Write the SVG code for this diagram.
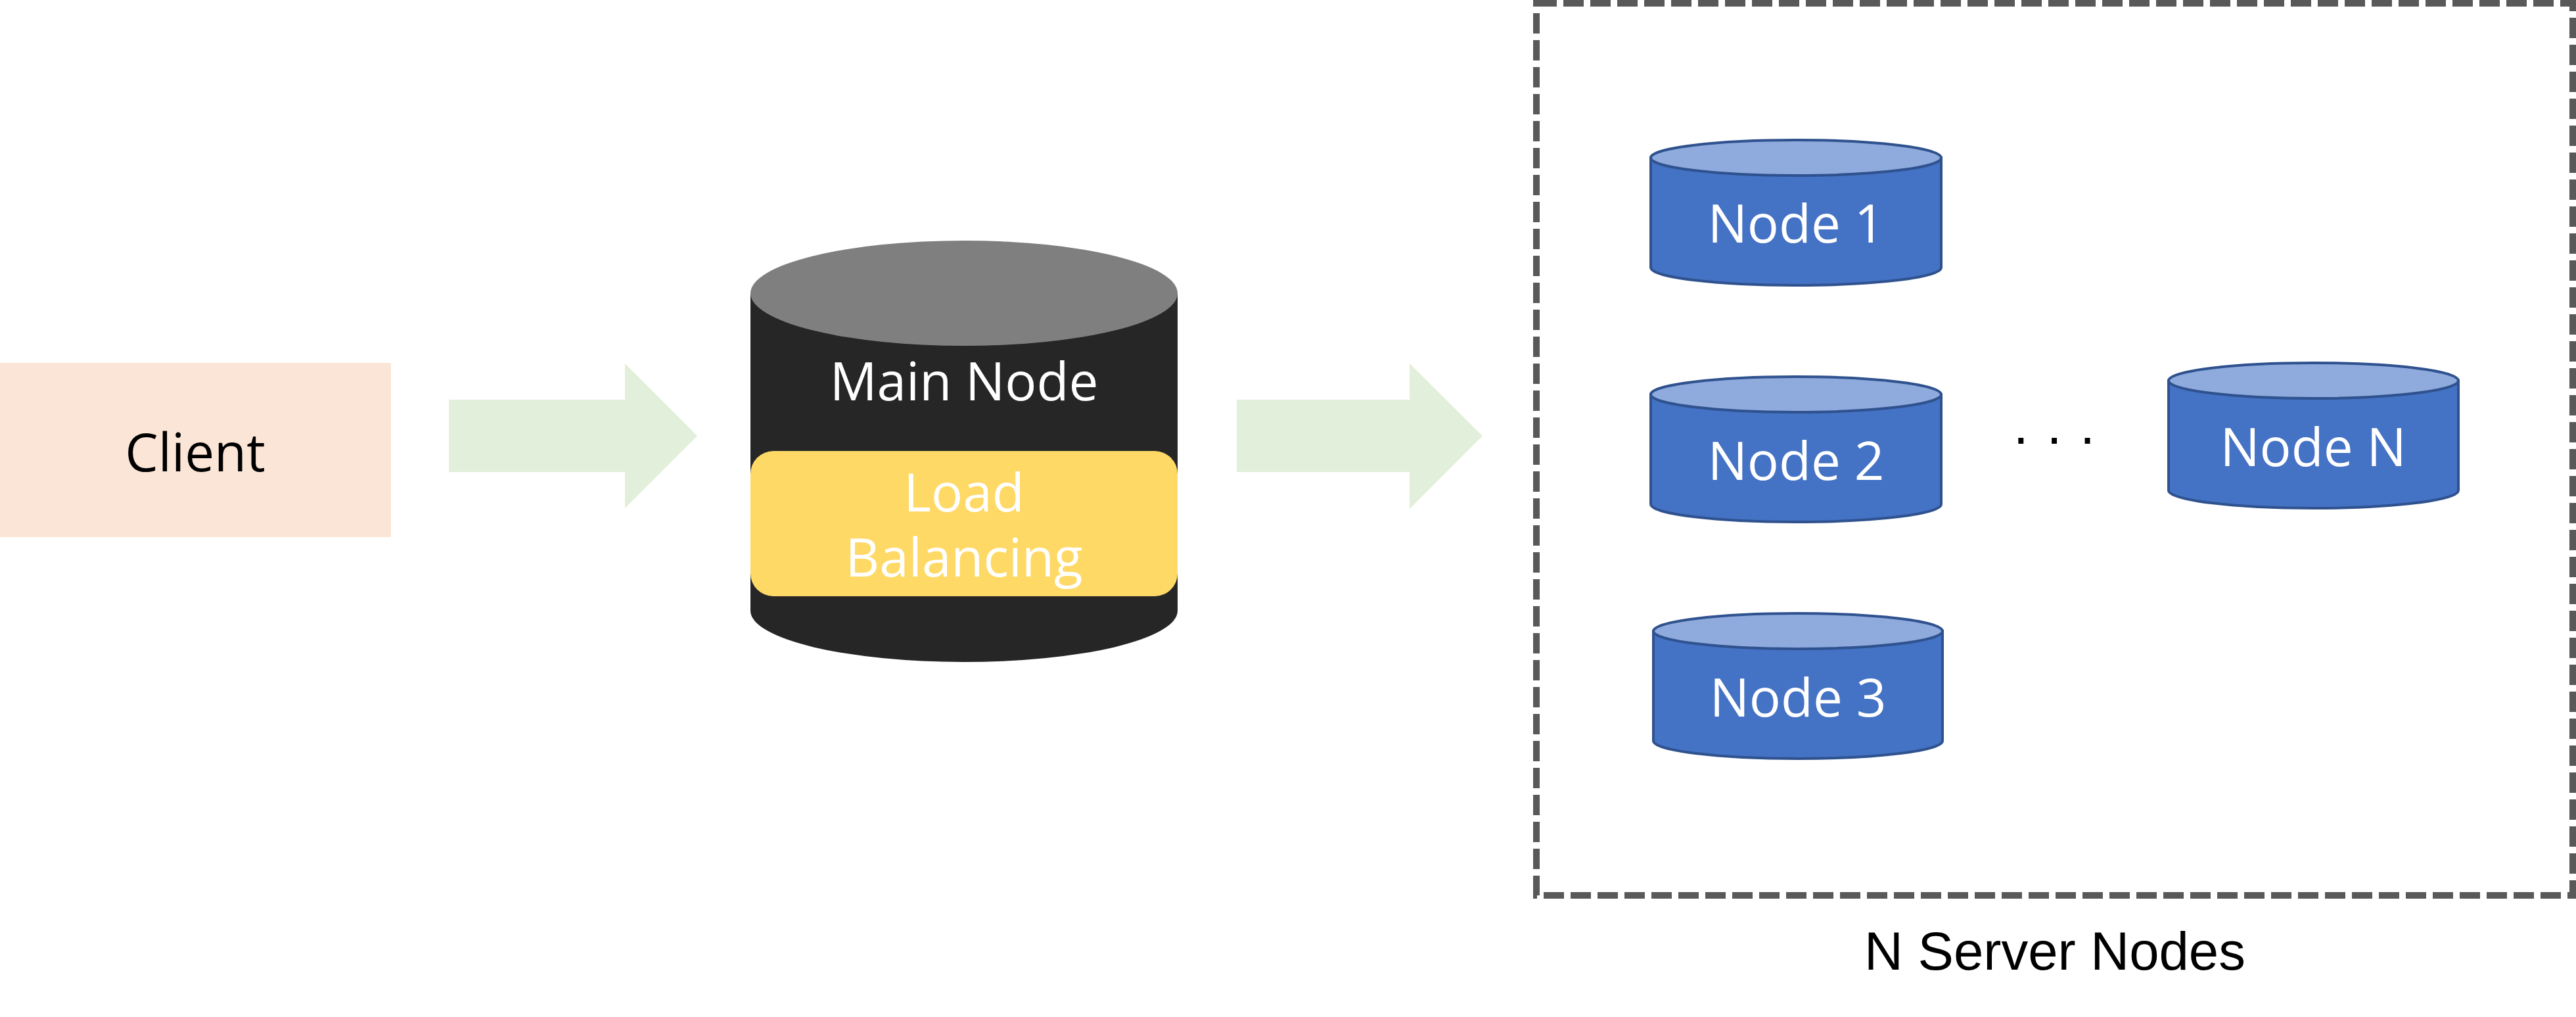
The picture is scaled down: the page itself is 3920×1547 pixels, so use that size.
<svg xmlns="http://www.w3.org/2000/svg" width="3920" height="1547" viewBox="0 0 3920 1547">
<style>
.seg{font-family:"Open Sans","Noto Sans","DejaVu Sans",sans-serif;font-size:80px;text-anchor:middle}
.w{fill:#ffffff}
.k{fill:#000000}
.arial{font-family:"Liberation Sans",Arial,sans-serif;text-anchor:middle}
.body{fill:#4472c4;stroke:#2f528f;stroke-width:4}
.top{fill:#8faadc;stroke:#2f528f;stroke-width:4}
.flow{fill:#e2efda}
</style>
<rect width="3920" height="1547" fill="#ffffff"/>
<g id="client">
<rect x="0" y="552" width="595" height="265" fill="#fbe5d6"/>
<text class="seg k" x="297" y="717">Client</text>
</g>
<g id="main-node">
<path d="M1142,446 L1142,929 A325,78 0 0 0 1792,929 L1792,446 Z" fill="#262626"/>
<ellipse cx="1467" cy="446" rx="325" ry="80" fill="#7f7f7f"/>
<text class="seg w" x="1467" y="609">Main Node</text>
<rect x="1142" y="686" width="650" height="221" rx="35" ry="35" fill="#ffd966"/>
<text class="seg w" x="1467" y="778">Load</text>
<text class="seg w" x="1467" y="877">Balancing</text>
</g>
<g id="server-group">
<rect x="2338" y="5" width="1577" height="1357" fill="none" stroke="#595959" stroke-width="10" stroke-dasharray="31 10"/>
<text class="arial k" x="3127" y="1475" font-size="81.5">N Server Nodes</text>
</g>
<g id="node1">
<path class="body" d="M2512,240 L2512,407 A221,27 0 0 0 2954,407 L2954,240 Z"/>
<ellipse class="top" cx="2733" cy="240" rx="221" ry="27"/>
<text class="seg w" x="2733" y="369">Node 1</text>
</g>
<g id="node2">
<path class="body" d="M2512,600 L2512,767 A221,27 0 0 0 2954,767 L2954,600 Z"/>
<ellipse class="top" cx="2733" cy="600" rx="221" ry="27"/>
<text class="seg w" x="2733" y="730">Node 2</text>
</g>
<g id="node3">
<path class="body" d="M2516,960 L2516,1127 A220,27 0 0 0 2956,1127 L2956,960 Z"/>
<ellipse class="top" cx="2736" cy="960" rx="220" ry="27"/>
<text class="seg w" x="2736" y="1090">Node 3</text>
</g>
<g id="nodeN">
<path class="body" d="M3300,579 L3300,746 A220.5,27 0 0 0 3741,746 L3741,579 Z"/>
<ellipse class="top" cx="3520.5" cy="579" rx="220.5" ry="27"/>
<text class="seg w" x="3520" y="709">Node N</text>
</g>
<g id="ellipsis">
<text class="arial k" x="3126" y="693" font-size="83">· · ·</text>
</g>
<g id="connectors">
<polygon class="flow" points="683,608 951,608 951,553 1061,663 951,773 951,718 683,718"/>
<polygon class="flow" points="1882,608 2145,608 2145,553 2256,663 2145,774 2145,718 1882,718"/>
</g>
</svg>
